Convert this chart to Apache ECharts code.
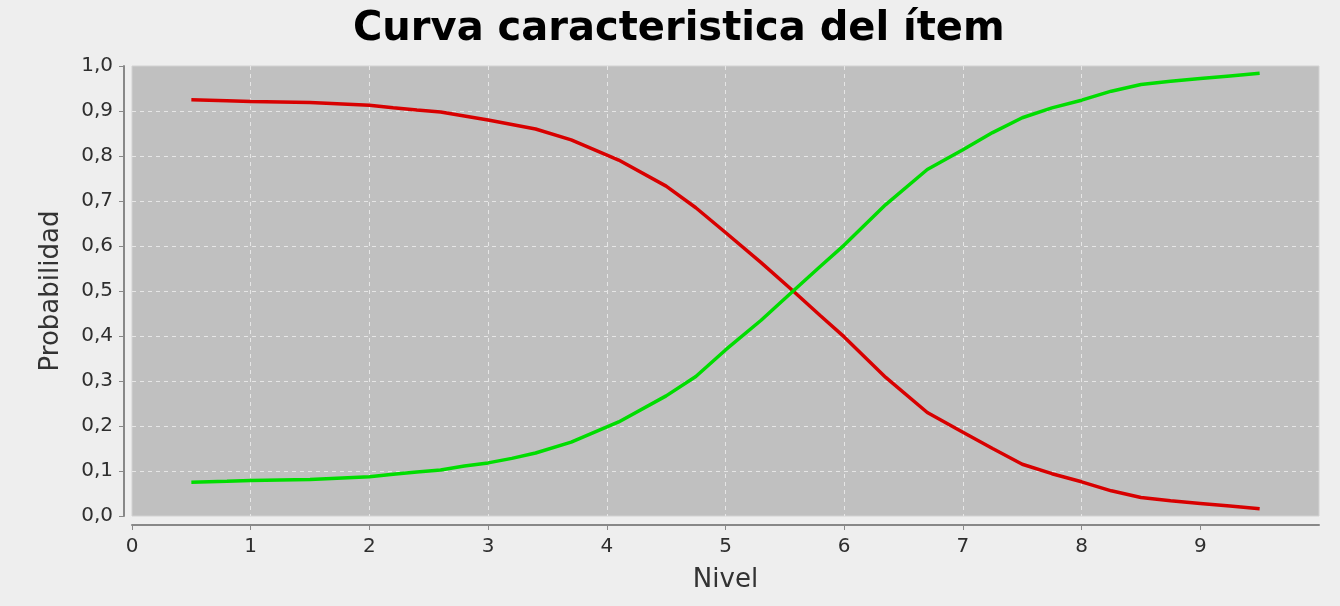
<!DOCTYPE html>
<html>
<head>
<meta charset="utf-8">
<script src="https://cdn.jsdelivr.net/npm/echarts@6/dist/echarts.min.js"></script>
<style>
  html, body { margin: 0; padding: 0; background: #eeeeee; }
  #chart { width: 1340px; height: 606px; }
</style>
</head>
<body>
<div id="chart"></div>
<script>
const titleText = 'Curva caracteristica del ítem';
const xName = 'Nivel';
const yName = 'Probabilidad';
const nivel = [0.5, 0.8, 1.0, 1.5, 2.0, 2.2, 2.4, 2.6, 2.8, 3.0, 3.2, 3.4, 3.7, 4.1, 4.5, 4.75, 5.0, 5.3, 5.57, 5.8, 6.0, 6.35, 6.7, 7.0, 7.25, 7.5, 7.75, 8.0, 8.25, 8.5, 8.75, 9.0, 9.25, 9.5];
const rojo = [0.925, 0.923, 0.921, 0.919, 0.913, 0.907, 0.902, 0.898, 0.889, 0.880, 0.870, 0.860, 0.836, 0.791, 0.733, 0.685, 0.630, 0.563, 0.500, 0.445, 0.398, 0.308, 0.230, 0.186, 0.150, 0.115, 0.094, 0.076, 0.056, 0.041, 0.034, 0.028, 0.022, 0.016];
const verde = [0.075, 0.077, 0.079, 0.081, 0.087, 0.093, 0.098, 0.102, 0.111, 0.118, 0.128, 0.140, 0.164, 0.209, 0.267, 0.310, 0.369, 0.435, 0.500, 0.555, 0.602, 0.692, 0.770, 0.814, 0.852, 0.885, 0.907, 0.924, 0.944, 0.959, 0.966, 0.972, 0.978, 0.984];
const xTicks = [0, 1, 2, 3, 4, 5, 6, 7, 8, 9];

const chart = echarts.init(document.getElementById('chart'), null, { renderer: 'canvas' });
const font = 'DejaVu Sans';
chart.setOption({
  backgroundColor: '#eeeeee',
  animation: false,
  title: {
    text: titleText,
    left: 348,
    top: 5,
    textStyle: { fontFamily: font, fontWeight: 'bold', fontSize: 40, color: '#000000' }
  },
  grid: {
    left: 132, right: 21, top: 66, bottom: 90,
    show: true, backgroundColor: '#c0c0c0', borderColor: '#d2d2d2', borderWidth: 1
  },
  xAxis: {
    type: 'value', min: 0, max: 10, interval: 1,
    offset: 9,
    name: xName, nameLocation: 'middle', nameGap: 42,
    nameTextStyle: { fontFamily: font, fontSize: 26, color: '#333333' },
    axisLine: { show: true, onZero: false, lineStyle: { color: '#888888', width: 2 } },
    axisTick: { show: true, length: 5, lineStyle: { color: '#888888', width: 1 }, customValues: xTicks },
    axisLabel: { fontFamily: font, fontSize: 20, color: '#2e2e2e', margin: 12, showMaxLabel: false,
      formatter: v => String(v) },
    splitLine: { show: true, showMinLine: false, showMaxLine: false, lineStyle: { color: '#e6e6e6', width: 1, type: [4, 4] } }
  },
  yAxis: {
    type: 'value', min: 0, max: 1, interval: 0.1,
    offset: 8,
    name: yName, nameLocation: 'middle', nameGap: 60,
    nameTextStyle: { fontFamily: font, fontSize: 26, color: '#333333' },
    axisLine: { show: true, onZero: false, lineStyle: { color: '#888888', width: 2 } },
    axisTick: { show: true, length: 5, lineStyle: { color: '#888888', width: 1 } },
    axisLabel: { fontFamily: font, fontSize: 20, color: '#2e2e2e', margin: 11,
      formatter: v => v.toFixed(1).replace('.', ',') },
    splitLine: { show: true, showMinLine: false, showMaxLine: false, lineStyle: { color: '#e6e6e6', width: 1, type: [4, 4] } }
  },
  series: [
    {
      type: 'line', name: 'rojo', showSymbol: false, symbol: 'none',
      data: nivel.map((x, i) => [x, rojo[i]]),
      lineStyle: { color: '#d80000', width: 3.5 }, itemStyle: { color: '#d80000' }
    },
    {
      type: 'line', name: 'verde', showSymbol: false, symbol: 'none',
      data: nivel.map((x, i) => [x, verde[i]]),
      lineStyle: { color: '#00dd00', width: 3.5 }, itemStyle: { color: '#00dd00' }
    }
  ]
});
</script>
</body>
</html>
